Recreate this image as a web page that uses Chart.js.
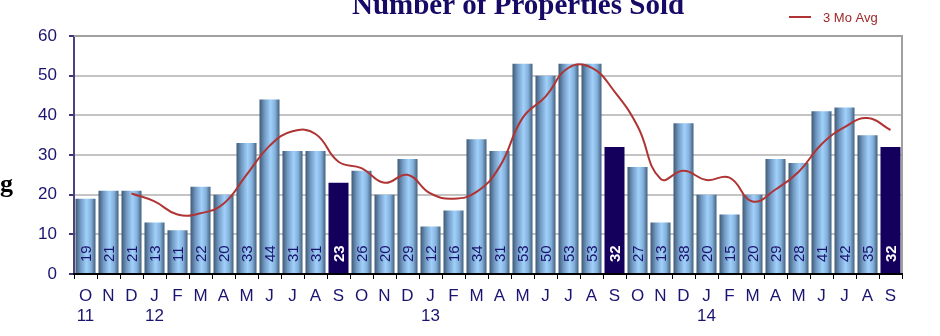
<!DOCTYPE html>
<html lang="en">
<head>
    <meta charset="UTF-8">
    <script src="https://cdn.jsdelivr.net/npm/chart.js"></script>
    <title>Number of Properties Sold</title>
    <style>
        body { margin: 0; background: #fff; }
        .wrap { width: 940px; height: 336px; position: relative; }
    </style>
</head>
<body>
    <div class="wrap"><canvas id="soldChart" width="940" height="336"></canvas></div>
    <script>
        // Data
        var months = ['O', 'N', 'D', 'J', 'F', 'M', 'A', 'M', 'J', 'J', 'A', 'S',
                      'O', 'N', 'D', 'J', 'F', 'M', 'A', 'M', 'J', 'J', 'A', 'S',
                      'O', 'N', 'D', 'J', 'F', 'M', 'A', 'M', 'J', 'J', 'A', 'S'];
        var years = ['11', '', '', '12', '', '', '', '', '', '', '', '',
                     '', '', '', '13', '', '', '', '', '', '', '', '',
                     '', '', '', '14', '', '', '', '', '', '', '', ''];
        var sold = [19, 21, 21, 13, 11, 22, 20, 33, 44, 31, 31, 23,
                    26, 20, 29, 12, 16, 34, 31, 53, 50, 53, 53, 32,
                    27, 13, 38, 20, 15, 20, 29, 28, 41, 42, 35, 32];
        var avg3 = [null, null, 20.3, 18.3, 15, 15.3, 17.7, 25, 32.3, 36, 35.3, 28.3,
                    26.7, 23, 25, 20.3, 19, 20.7, 27, 39.3, 44.7, 52, 52, 46,
                    37.3, 24, 26, 23.7, 24.3, 18.3, 21.3, 25.7, 32.7, 37, 39.3, 36.3];
        var yTicks = [0, 10, 20, 30, 40, 50, 60];

        var labels = months.map(function (m, i) { return [m, years[i]]; });
        var NAVY = '#1a1470';

        function barColor(ctx) {
            var i = ctx.dataIndex;
            if (months[i] === 'S') return '#14005c';
            var chart = ctx.chart;
            var xs = chart.scales.x;
            if (!xs || !chart.chartArea) return '#8cbbe6';
            var cx = xs.getPixelForValue(i);
            var w = (xs.width / months.length) * 0.87;
            var g = chart.ctx.createLinearGradient(cx - w / 2, 0, cx + w / 2, 0);
            g.addColorStop(0, '#3f5975');
            g.addColorStop(0.25, '#7199c2');
            g.addColorStop(0.55, '#a0d0fa');
            g.addColorStop(0.78, '#84b1db');
            g.addColorStop(1, '#42607e');
            return g;
        }

        // title, legend, frame and bar value labels
        var extras = {
            id: 'extras',
            beforeDatasetsDraw: function (chart) {
                var c = chart.ctx, a = chart.chartArea;
                c.save();
                c.strokeStyle = '#a0a0a0';
                c.lineWidth = 2;
                c.beginPath();
                c.moveTo(a.left, a.top);
                c.lineTo(a.right, a.top);
                c.lineTo(a.right, a.bottom);
                c.stroke();
                c.restore();
            },
            afterDatasetsDraw: function (chart) {
                var c = chart.ctx;
                var meta = chart.getDatasetMeta(1);
                c.save();
                meta.data.forEach(function (bar, i) {
                    var dark = months[i] === 'S';
                    c.save();
                    c.translate(bar.x, chart.chartArea.bottom - 12);
                    c.rotate(-Math.PI / 2);
                    c.font = (dark ? 'bold ' : '') + '15px "Liberation Sans", Arial, sans-serif';
                    c.fillStyle = dark ? '#ffffff' : NAVY;
                    c.textAlign = 'left';
                    c.textBaseline = 'middle';
                    c.fillText(String(sold[i]), 0, 1);
                    c.restore();
                });
                c.restore();
            },
            afterDraw: function (chart) {
                var c = chart.ctx;
                c.save();
                c.font = 'bold 29px "Liberation Serif", "DejaVu Serif", serif';
                c.fillStyle = '#160a66';
                c.textAlign = 'center';
                c.textBaseline = 'alphabetic';
                c.fillText('Number of Properties Sold', 518, 14);

                c.font = 'bold 26px "Liberation Serif", serif';
                c.textAlign = 'left';
                c.fillStyle = '#000';
                c.fillText('g', 0, 192);

                c.strokeStyle = '#b03434';
                c.lineWidth = 2;
                c.beginPath();
                c.moveTo(789, 17);
                c.lineTo(811, 17);
                c.stroke();
                c.font = '13px "Liberation Sans", Arial, sans-serif';
                c.fillStyle = '#a02828';
                c.textBaseline = 'middle';
                c.fillText('3 Mo Avg', 823, 18);
                c.restore();
            }
        };

        new Chart(document.getElementById('soldChart').getContext('2d'), {
            data: {
                labels: labels,
                datasets: [{
                    type: 'line',
                    label: '3 Mo Avg',
                    data: avg3,
                    borderColor: '#b03434',
                    borderWidth: 2,
                    pointRadius: 0,
                    tension: 0.45,
                    fill: false,
                    order: 0
                }, {
                    type: 'bar',
                    label: 'Sold',
                    data: sold,
                    backgroundColor: barColor,
                    borderWidth: 0,
                    categoryPercentage: 0.87,
                    barPercentage: 1,
                    order: 1
                }]
            },
            options: {
                responsive: false,
                animation: false,
                layout: { padding: { top: 36, right: 38, left: 0, bottom: 0 } },
                plugins: {
                    legend: { display: false },
                    title: { display: false },
                    tooltip: { enabled: false }
                },
                scales: {
                    x: {
                        afterFit: function (s) { s.height = 62; },
                        grid: {
                            drawOnChartArea: false,
                            drawTicks: true,
                            tickLength: 5,
                            color: '#000',
                            offset: true
                        },
                        border: { color: '#000', width: 2, z: 1 },
                        ticks: {
                            color: NAVY,
                            padding: 7,
                            maxRotation: 0,
                            autoSkip: false,
                            font: { family: '"Liberation Sans", Arial, sans-serif', size: 17 }
                        }
                    },
                    y: {
                        min: 0,
                        max: 60,
                        afterFit: function (s) { s.width = 74; },
                        afterBuildTicks: function (s) {
                            s.ticks = yTicks.map(function (v) { return { value: v }; });
                        },
                        grid: {
                            color: '#c4c4c4',
                            lineWidth: 2,
                            tickColor: '#3d3577',
                            tickLength: 5,
                            z: -1
                        },
                        border: { color: '#4b4380', width: 2 },
                        ticks: {
                            color: NAVY,
                            padding: 12,
                            font: { family: '"Liberation Sans", Arial, sans-serif', size: 17 }
                        }
                    }
                }
            },
            plugins: [extras]
        });
    </script>
</body>
</html>
